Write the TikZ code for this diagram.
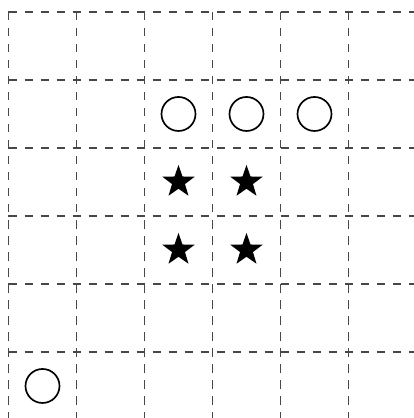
\documentclass[tikz,border=0pt]{standalone}
\usetikzlibrary{shapes.geometric}
\tikzset{
  gridline/.style={dash pattern=on 3.5pt off 3.2pt, line width=0.65pt, black!72},
  ring/.style={circle, draw, line width=0.7pt, minimum size=0.5cm, inner sep=0pt},
  starmark/.style={star, star points=5, star point ratio=2.5, fill=black, draw=none, minimum size=0.5cm, inner sep=0pt}
}
\begin{document}
\begin{tikzpicture}
\useasboundingbox (-0.125,0.176) rectangle (5.963,-5.971);
\clip (-0.125,0.176) rectangle (5.963,-5.971);
\foreach \i in {0,...,5} {
  \draw[gridline] (\i,0) -- (\i,-6.2);
  \draw[gridline] (0,-\i) -- (6.2,-\i);
}
\node[ring] (c1) at (2.5,-1.5) {};
\node[ring] (c2) at (3.5,-1.5) {};
\node[ring] (c3) at (4.5,-1.5) {};
\node[ring] (c4) at (0.5,-5.5) {};
\node[starmark] (s1) at (2.5,-2.5) {};
\node[starmark] (s2) at (3.5,-2.5) {};
\node[starmark] (s3) at (2.5,-3.5) {};
\node[starmark] (s4) at (3.5,-3.5) {};
\end{tikzpicture}
\end{document}
